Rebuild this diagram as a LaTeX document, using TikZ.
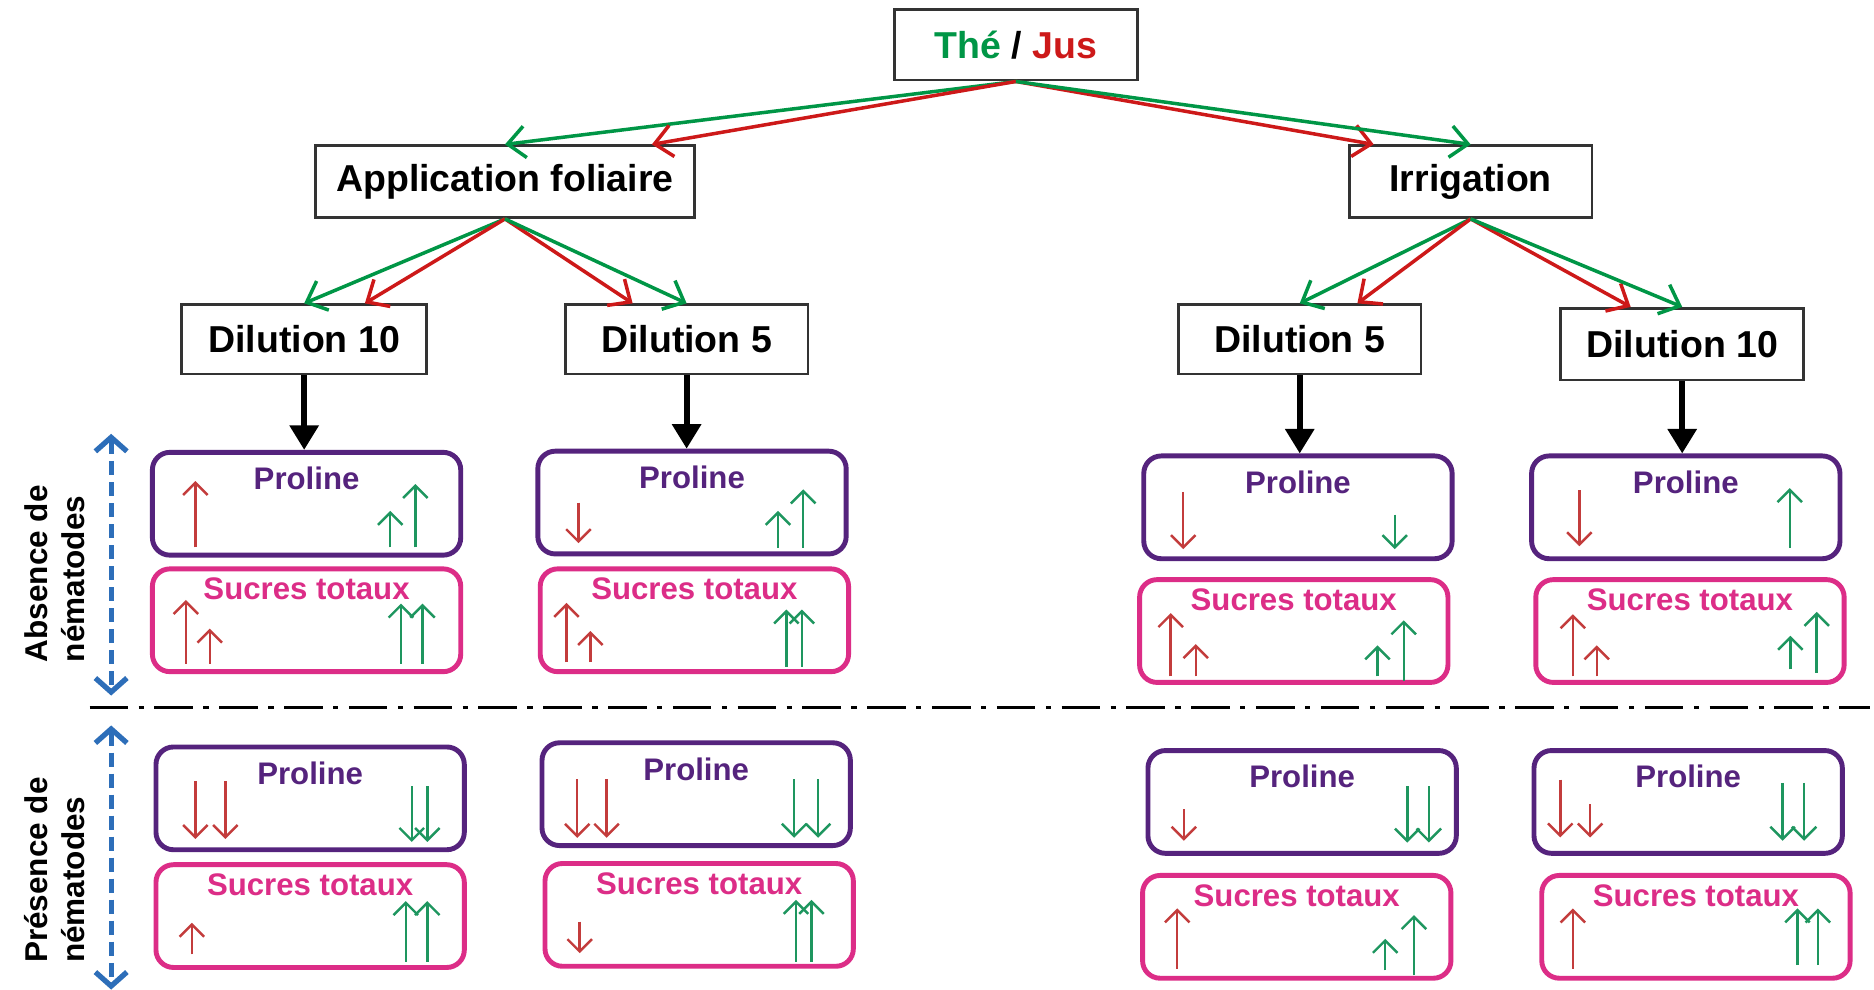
\documentclass[tikz,border=0pt]{standalone}
\usepackage{fontspec}
\setmainfont{Liberation Sans}
\usetikzlibrary{positioning,calc,arrows.meta}

\definecolor{teagreen}{RGB}{0,150,70}
\definecolor{juicered}{RGB}{205,25,25}
\definecolor{prolinepurple}{RGB}{85,35,125}
\definecolor{sugarpink}{RGB}{220,45,135}
\definecolor{trendred}{RGB}{195,60,60}
\definecolor{trendgreen}{RGB}{30,150,95}
\definecolor{sideblue}{RGB}{45,110,185}

\newcommand{\pxu}{0.012cm}

\tikzset{
  treebox/.style={draw=black!80, line width=0.8pt, fill=white, inner sep=0pt,
    minimum width=203*\pxu, minimum height=59*\pxu,
    font=\fontsize{10.7}{12}\selectfont\bfseries},
  probox/.style={draw=prolinepurple, line width=1.4pt, rounded corners=5pt,
    minimum width=258*\pxu, minimum height=86*\pxu},
  sugbox/.style={probox, draw=sugarpink},
  protitle/.style={text=prolinepurple, inner sep=0pt,
    font=\fontsize{8.9}{10}\selectfont\bfseries},
  sugtitle/.style={protitle, text=sugarpink},
  teaarrow/.style={draw=teagreen, line width=1pt, -{Straight Barb[length=5pt,width=9pt]}},
  juicearrow/.style={teaarrow, draw=juicered},
  dilarrow/.style={draw=black, line width=1.7pt, -{Triangle[length=7pt,width=8pt]}},
  redtrend/.style={draw=trendred, line width=0.7pt, -{Straight Barb[length=3.5pt,width=7pt]}},
  greentrend/.style={redtrend, draw=trendgreen},
  sidearrow/.style={draw=sideblue, line width=1.5pt, dash pattern=on 4pt off 2pt,
    {Straight Barb[length=4pt,width=9pt]}-{Straight Barb[length=4pt,width=9pt]}},
  sidelabel/.style={rotate=90, align=left, inner sep=0pt,
    font=\fontsize{9}{10.6}\selectfont\bfseries}
}

\begin{document}
\begin{tikzpicture}[x=0.012cm, y=-0.012cm]

  \useasboundingbox[fill=white] (0,0) rectangle (1568,828);

  % Tree of treatments
  \node[treebox] (tea) at (850,37.5)
    {\textcolor{teagreen}{Thé} / \textcolor{juicered}{Jus}};
  \node[treebox, minimum width=317*\pxu, minimum height=60*\pxu] (foliar) at (422.5,152)
    {Application foliaire};
  \node[treebox, minimum height=60*\pxu] (irrig) at (1230.5,152) {Irrigation};

  \node[treebox, minimum width=205*\pxu, minimum height=58*\pxu] (folten)  at (254.5,284) {Dilution 10};
  \node[treebox, minimum height=58*\pxu] (folfive) at (574.5,284) {Dilution 5};
  \node[treebox, minimum height=58*\pxu] (irrfive) at (1087.5,284) {Dilution 5};
  \node[treebox, minimum height=60*\pxu] (irrten)  at (1407.5,288) {Dilution 10};

  % green = tea, red = juice
  \draw[teaarrow]   (tea.south) -- (foliar.north);
  \draw[juicearrow] (tea.south) -- ($(foliar.north)!0.77!(foliar.north east)$);
  \draw[juicearrow] (tea.south) -- ($(irrig.north)!0.79!(irrig.north west)$);
  \draw[teaarrow]   (tea.south) -- (irrig.north);

  \draw[teaarrow]   (foliar.south) -- (folten.north);
  \draw[juicearrow] (foliar.south) -- ($(folten.north)!0.49!(folten.north east)$);
  \draw[juicearrow] (foliar.south) -- ($(folfive.north)!0.44!(folfive.north west)$);
  \draw[teaarrow]   (foliar.south) -- (folfive.north);

  \draw[teaarrow]   (irrig.south) -- (irrfive.north);
  \draw[juicearrow] (irrig.south) -- ($(irrfive.north)!0.47!(irrfive.north east)$);
  \draw[juicearrow] (irrig.south) -- ($(irrten.north)!0.42!(irrten.north west)$);
  \draw[teaarrow]   (irrig.south) -- (irrten.north);

  % Result boxes, without nematodes
  \node[probox] (pA1) at (256.5,421.5) {};
  \node[probox] (pA2) at (579,420.5) {};
  \node[probox] (pA3) at (1086,424.5) {};
  \node[probox] (pA4) at (1410.5,424.5) {};
  \node[sugbox] (sA1) at (256.5,519) {};
  \node[sugbox] (sA2) at (581,519) {};
  \node[sugbox] (sA3) at (1082.5,528) {};
  \node[sugbox] (sA4) at (1414,528) {};

  % Result boxes, with nematodes
  \node[probox] (pP1) at (259.5,668) {};
  \node[probox] (pP2) at (582.5,664.5) {};
  \node[probox] (pP3) at (1089.5,671) {};
  \node[probox] (pP4) at (1412.5,671) {};
  \node[sugbox] (sP1) at (259.5,766.5) {};
  \node[sugbox] (sP2) at (585,765.5) {};
  \node[sugbox] (sP3) at (1085,775.5) {};
  \node[sugbox] (sP4) at (1419,775.5) {};

  \foreach \b in {pA1,pA2,pA3,pA4,pP1,pP2,pP3,pP4}
    \node[protitle] (\b t) at ($(\b.north)+(0,24)$) {Proline};
  \foreach \b in {sA1,sA2,sA3,sA4,sP1,sP2,sP3,sP4}
    \node[sugtitle] (\b t) at ($(\b.north)+(0,19)$) {Sucres totaux};

  % Dilutions down to the results
  \draw[dilarrow] (folten.south)  -- (folten.south |- pA1.north);
  \draw[dilarrow] (folfive.south) -- (folfive.south |- pA2.north);
  \draw[dilarrow] (irrfive.south) -- (irrfive.south |- pA3.north);
  \draw[dilarrow] (irrten.south)  -- (irrten.south |- pA4.north);

  % Trends inside the boxes (red = juice, green = tea)
  \begin{scope}[shift={(pA1.center)}]
    \draw[redtrend]   (-93,36.5) -- (-93,-19);
    \draw[greentrend] (70,36.5) -- (70,6);
    \draw[greentrend] (91,36.5) -- (91,-16.5);
  \end{scope}
  \begin{scope}[shift={(sA1.center)}]
    \draw[redtrend]   (-101,36.5) -- (-101,-17);
    \draw[redtrend]   (-81,36.5) -- (-81,7);
    \draw[greentrend] (79,36.5) -- (79,-14);
    \draw[greentrend] (97,36.5) -- (97,-14);
  \end{scope}
  \begin{scope}[shift={(pA2.center)}]
    \draw[redtrend]   (-95,0) -- (-95,34);
    \draw[greentrend] (72,38) -- (72,7);
    \draw[greentrend] (93,38) -- (93,-11);
  \end{scope}
  \begin{scope}[shift={(sA2.center)}]
    \draw[redtrend]   (-107,35) -- (-107,-14.5);
    \draw[redtrend]   (-87,35) -- (-87,9);
    \draw[greentrend] (77,39) -- (77,-9);
    \draw[greentrend] (90,39) -- (90,-9);
  \end{scope}
  \begin{scope}[shift={(pA3.center)}]
    \draw[redtrend]   (-96,-13) -- (-96,35);
    \draw[greentrend] (81,6) -- (81,35);
  \end{scope}
  \begin{scope}[shift={(sA3.center)}]
    \draw[redtrend]   (-103,38) -- (-103,-15);
    \draw[redtrend]   (-82,38) -- (-82,11);
    \draw[greentrend] (70,38) -- (70,12);
    \draw[greentrend] (92,42) -- (92,-9);
  \end{scope}
  \begin{scope}[shift={(pA4.center)}]
    \draw[redtrend]   (-89,-14.5) -- (-89,32.5);
    \draw[greentrend] (87,34) -- (87,-16);
  \end{scope}
  \begin{scope}[shift={(sA4.center)}]
    \draw[redtrend]   (-98,38) -- (-98,-14);
    \draw[redtrend]   (-78,38) -- (-78,12);
    \draw[greentrend] (84,32) -- (84,4);
    \draw[greentrend] (106,35) -- (106,-16);
  \end{scope}
  \begin{scope}[shift={(pP1.center)}]
    \draw[redtrend]   (-96,-14.5) -- (-96,34);
    \draw[redtrend]   (-71,-14.5) -- (-71,34);
    \draw[greentrend] (85,-10) -- (85,36.5);
    \draw[greentrend] (98,-10) -- (98,36.5);
  \end{scope}
  \begin{scope}[shift={(sP1.center)}]
    \draw[redtrend]   (-99,32) -- (-99,5.6);
    \draw[greentrend] (80,38) -- (80,-12.6);
    \draw[greentrend] (98,38) -- (98,-12.6);
  \end{scope}
  \begin{scope}[shift={(pP2.center)}]
    \draw[redtrend]   (-99.5,-12.6) -- (-99.5,36.5);
    \draw[redtrend]   (-75,-12.6) -- (-75,36.5);
    \draw[greentrend] (82,-12.6) -- (82,36.5);
    \draw[greentrend] (102,-12.6) -- (102,36.5);
  \end{scope}
  \begin{scope}[shift={(sP2.center)}]
    \draw[redtrend]   (-100,5.6) -- (-100,32);
    \draw[greentrend] (81,39) -- (81,-12.6);
    \draw[greentrend] (94,39) -- (94,-12.6);
  \end{scope}
  \begin{scope}[shift={(pP3.center)}]
    \draw[redtrend]   (-99,6) -- (-99,32.5);
    \draw[greentrend] (88,-13) -- (88,34);
    \draw[greentrend] (106,-13) -- (106,34);
  \end{scope}
  \begin{scope}[shift={(sP3.center)}]
    \draw[redtrend]   (-100,35) -- (-100,-15.4);
    \draw[greentrend] (74,36.5) -- (74,10);
    \draw[greentrend] (98,40.7) -- (98,-9.8);
  \end{scope}
  \begin{scope}[shift={(pP4.center)}]
    \draw[redtrend]   (-107,-18.6) -- (-107,29.7);
    \draw[redtrend]   (-82,2) -- (-82,29.7);
    \draw[greentrend] (79,-16) -- (79,32.5);
    \draw[greentrend] (97,-16) -- (97,32.5);
  \end{scope}
  \begin{scope}[shift={(sP4.center)}]
    \draw[redtrend]   (-103,35) -- (-103,-15.4);
    \draw[greentrend] (85,32) -- (85,-15.4);
    \draw[greentrend] (102,32) -- (102,-15.4);
  \end{scope}

  % Separation between the two conditions
  \coordinate (sepL) at (75,592);
  \coordinate (sepR) at (1565,592);
  \draw[line width=1.1pt, dash pattern=on 11pt off 3pt on 1.5pt off 3pt] (sepL) -- (sepR);

  % Side labels
  \coordinate (absT) at (93,363);
  \coordinate (absB) at (93,582);
  \coordinate (preT) at (93,607);
  \coordinate (preB) at (93,828);
  \draw[sidearrow] (absT) -- (absB);
  \draw[sidearrow] (preT) -- (preB);

  \node[sidelabel] (absence)  at (46,480) {Absence de\\nématodes};
  \node[sidelabel] (presence) at (46,728) {Présence de\\nématodes};

\end{tikzpicture}
\end{document}
